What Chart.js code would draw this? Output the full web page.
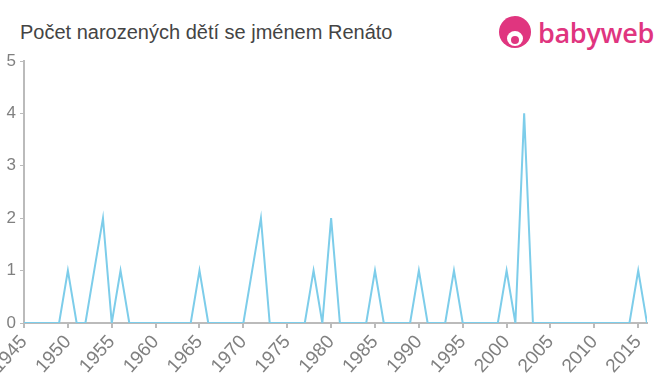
<!DOCTYPE html>
<html>
<head>
<meta charset="utf-8">
<script src="https://cdn.jsdelivr.net/npm/chart.js@4.4.1/dist/chart.umd.min.js"></script>
<style>
  html, body { margin: 0; padding: 0; background: #fff; }
  body { width: 660px; height: 375px; position: relative; overflow: hidden; font-family: "Liberation Sans", Arial, sans-serif; }
  #title { position: absolute; left: 20px; top: 21px; font-size: 20px; color: #444; white-space: nowrap; }
  #logo { position: absolute; left: 499px; top: 14px; height: 38px; }
  #logo .icon { position: absolute; left: 0; top: 2px; width: 32px; height: 32px; border-radius: 50%; background: #e0357f; }
  #logo .icon .face { position: absolute; left: 8px; top: 15px; width: 16px; height: 15px; border-radius: 50%; background: #fff; }
  #logo .icon .face2 { position: absolute; left: 12px; top: 20px; width: 8px; height: 8px; border-radius: 50%; background: #e0357f; }
  #logo .txt { position: absolute; left: 39px; top: 0px; font-family: "Open Sans", "Liberation Sans", sans-serif; font-size: 27px; font-weight: 600; color: #e0357f; letter-spacing: -0.3px; }
  #wrap { position: absolute; left: 0; top: 0; width: 660px; height: 375px; }
</style>
</head>
<body>
<div id="title">Počet narozených dětí se jménem Renáto</div>
<div id="logo"><div class="icon"><div class="face"></div><div class="face2"></div></div><div class="txt">babyweb</div></div>
<div id="wrap"><canvas id="c" width="660" height="375"></canvas></div>
<script>
const years = [1945,1946,1947,1948,1949,1950,1951,1952,1953,1954,1955,1956,1957,1958,1959,1960,1961,1962,1963,1964,1965,1966,1967,1968,1969,1970,1971,1972,1973,1974,1975,1976,1977,1978,1979,1980,1981,1982,1983,1984,1985,1986,1987,1988,1989,1990,1991,1992,1993,1994,1995,1996,1997,1998,1999,2000,2001,2002,2003,2004,2005,2006,2007,2008,2009,2010,2011,2012,2013,2014,2015,2016];
const counts = [0,0,0,0,0,1,0,0,1,2,0,1,0,0,0,0,0,0,0,0,1,0,0,0,0,0,1,2,0,0,0,0,0,1,0,2,0,0,0,0,1,0,0,0,0,1,0,0,0,1,0,0,0,0,0,1,0,4,0,0,0,0,0,0,0,0,0,0,0,0,1,0];
const yTicks = [0,1,2,3,4,5];

const axisColor = '#bbbbbb';
const labelColor = '#808080';

new Chart(document.getElementById('c'), {
  type: 'line',
  data: {
    datasets: [{
      data: years.map((y, i) => ({ x: y, y: counts[i] })),
      borderColor: '#7dcdea',
      borderWidth: 2,
      pointRadius: 0,
      tension: 0,
      fill: false
    }]
  },
  options: {
    responsive: false,
    animation: false,
    layout: { padding: { left: 0, right: 13, top: 61, bottom: 0 } },
    plugins: { legend: { display: false }, tooltip: { enabled: false }, title: { display: false } },
    scales: {
      x: {
        type: 'linear',
        min: 1945,
        max: 2016,
        afterFit: (s) => { s.paddingLeft = 0; s.paddingRight = 0; s.height = 52; },
        afterBuildTicks: (s) => { s.ticks = []; for (let v = 1945; v <= 2015; v += 5) s.ticks.push({ value: v }); },
        ticks: {
          color: labelColor,
          font: { family: '"Liberation Sans", Arial, sans-serif', size: 19 },
          maxRotation: 48, minRotation: 48,
          padding: 3,
          callback: (v) => String(v),
          autoSkip: false
        },
        grid: { drawOnChartArea: false, drawTicks: true, tickLength: 5, color: axisColor, lineWidth: 2 },
        border: { color: axisColor, width: 2 }
      },
      y: {
        min: 0,
        max: 5,
        afterFit: (s) => { s.width = 24; s.paddingTop = 0; s.paddingBottom = 0; },
        afterBuildTicks: (s) => { s.ticks = yTicks.map(v => ({ value: v })); },
        ticks: {
          color: labelColor,
          font: { family: '"Liberation Sans", Arial, sans-serif', size: 17 },
          padding: 4
        },
        grid: { drawOnChartArea: false, drawTicks: true, tickLength: 4, color: axisColor, lineWidth: 1 },
        border: { color: axisColor, width: 2 }
      }
    }
  }
});
</script>
</body>
</html>
